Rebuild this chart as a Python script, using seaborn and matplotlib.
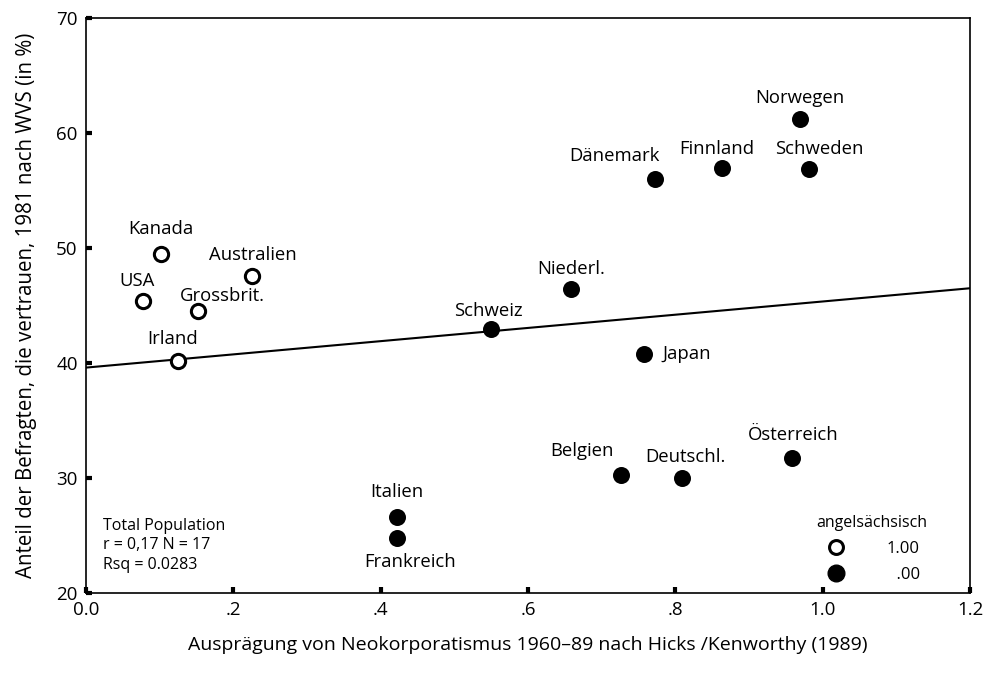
"""
Scatter: Neokorporatismus vs. Vertrauen (WVS 1981), angelsaechsische Laender hervorgehoben.
"""

import matplotlib

matplotlib.use("Agg")
import matplotlib.pyplot as plt
import pandas as pd
import seaborn as sns
from matplotlib.lines import Line2D

# data
countries = [
    "Kanada", "USA", "Grossbrit.", "Australien", "Irland",
    "Schweiz", "Niederl.", "Japan", "Dänemark", "Finnland",
    "Norwegen", "Schweden", "Belgien", "Deutschl.", "Österreich",
    "Italien", "Frankreich",
]
korporatismus = [
    0.102, 0.077, 0.152, 0.225, 0.125,
    0.550, 0.659, 0.758, 0.773, 0.863,
    0.969, 0.981, 0.726, 0.809, 0.958,
    0.422, 0.422,
]
vertrauen = [
    49.5, 45.4, 44.5, 47.6, 40.2,
    43.0, 46.4, 40.8, 56.0, 57.0,
    61.2, 56.9, 30.3, 30.0, 31.7,
    26.6, 24.8,
]
angelsaechsisch = [1, 1, 1, 1, 1] + [0] * 12

# fitted line as printed in the chart
fit_intercept = 39.6
fit_slope = 5.75

x_ticks = [0.0, 0.2, 0.4, 0.6, 0.8, 1.0, 1.2]
x_tick_labels = ["0.0", ".2", ".4", ".6", ".8", "1.0", "1.2"]
y_ticks = [20, 30, 40, 50, 60, 70]
legend_labels = ["1.00", "\u2007.00"]

df = pd.DataFrame({
    "land": countries,
    "x": korporatismus,
    "y": vertrauen,
    "anglo": angelsaechsisch,
})

# label placement (pixel offsets of label centre from the dot)
label_offsets = {
    "Kanada": (0, 25), "USA": (-6, 20), "Grossbrit.": (24, 15),
    "Australien": (1, 21), "Irland": (-5, 22), "Schweiz": (-3, 18),
    "Niederl.": (0, 20), "Dänemark": (-41, 23), "Finnland": (-5, 19),
    "Norwegen": (0, 21), "Schweden": (11, 20), "Belgien": (-39, 24),
    "Deutschl.": (3, 21), "Österreich": (2, 23), "Italien": (0, 25),
    "Frankreich": (13, -24),
}

sns.set_style("ticks")
plt.rcParams["font.family"] = ["Open Sans", "DejaVu Sans"]
plt.rcParams["text.color"] = "black"
plt.rcParams["axes.labelcolor"] = "black"
plt.rcParams["xtick.color"] = "black"
plt.rcParams["ytick.color"] = "black"

fig = plt.figure(figsize=(9.86, 6.75), dpi=100)
ax = fig.add_axes([0.0872, 0.1215, 0.8966, 0.8518])

ax.axline((0, fit_intercept), slope=fit_slope, color="black", lw=1.5, zorder=2)

open_df = df[df["anglo"] == 1]
filled_df = df[df["anglo"] == 0]
sns.scatterplot(data=open_df, x="x", y="y", ax=ax, s=105, facecolor="white",
                edgecolor="black", linewidth=2.2, zorder=3, legend=False)
sns.scatterplot(data=filled_df, x="x", y="y", ax=ax, s=150, color="black",
                edgecolor="black", linewidth=0, zorder=3, legend=False)

for _, row in df.iterrows():
    if row["land"] == "Japan":
        ax.annotate(row["land"], (row["x"], row["y"]), xytext=(18, 0),
                    textcoords="offset pixels", ha="left", va="center", fontsize=13.3)
        continue
    dx, dy = label_offsets[row["land"]]
    ax.annotate(row["land"], (row["x"], row["y"]), xytext=(dx, dy),
                textcoords="offset pixels", ha="center", va="center", fontsize=13.3)

ax.text(0.019, 0.035, "Total Population\nr = 0,17 N = 17\nRsq = 0.0283",
        transform=ax.transAxes, ha="left", va="bottom", fontsize=11.5, linespacing=1.3)

handles = [
    Line2D([], [], marker="o", ls="", markersize=10, markerfacecolor="white",
           markeredgecolor="black", markeredgewidth=2.2),
    Line2D([], [], marker="o", ls="", markersize=12, color="black"),
]
leg = ax.legend(handles, legend_labels, title="angelsächsisch", loc="upper center",
                bbox_to_anchor=(0.889, 0.148), frameon=False, fontsize=12,
                title_fontsize=11.5, handlelength=1.5, handletextpad=2.3,
                labelspacing=0.6, borderaxespad=0)

ax.set_xlim(0, 1.2)
ax.set_ylim(20, 70)
ax.set_xticks(x_ticks)
ax.set_xticklabels(x_tick_labels)
ax.set_yticks(y_ticks)
ax.tick_params(direction="in", length=4, width=3, labelsize=13.5, pad=6)
for side in ["top", "right", "bottom", "left"]:
    ax.spines[side].set_visible(True)
    ax.spines[side].set_linewidth(1.2)
    ax.spines[side].set_color("black")

ax.set_xlabel("Ausprägung von Neokorporatismus 1960–89 nach Hicks /Kenworthy (1989)",
              fontsize=14, labelpad=12)
ax.set_ylabel("Anteil der Befragten, die vertrauen, 1981 nach WVS (in %)",
              fontsize=14.8, labelpad=14)

fig.savefig("out.png", dpi=100)
plt.close(fig)
